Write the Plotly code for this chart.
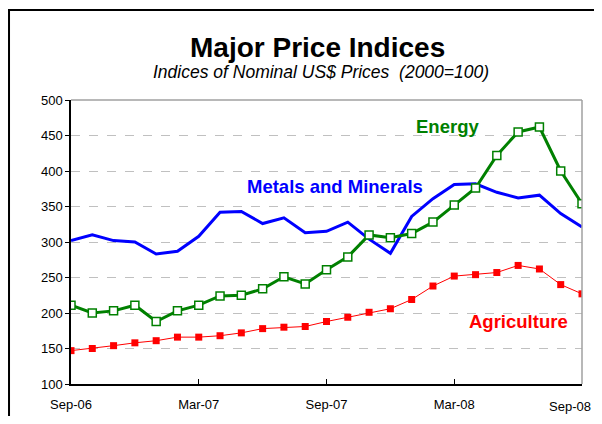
import plotly.graph_objects as go

months = ["Sep-06", "Oct-06", "Nov-06", "Dec-06", "Jan-07", "Feb-07", "Mar-07", "Apr-07",
          "May-07", "Jun-07", "Jul-07", "Aug-07", "Sep-07", "Oct-07", "Nov-07", "Dec-07",
          "Jan-08", "Feb-08", "Mar-08", "Apr-08", "May-08", "Jun-08", "Jul-08", "Aug-08", "Sep-08"]
metals = [302, 310, 302, 300, 283, 287, 308, 342, 343, 326, 334, 313, 315, 328, 304, 284,
          336, 361, 381, 382, 370, 362, 366, 340, 321]
energy = [211, 200, 203, 211, 188, 203, 211, 224, 225, 234, 251, 241, 261, 279, 310, 306,
          312, 328, 352, 376, 422, 455, 462, 400, 354]
agriculture = [147, 150, 154, 158, 161, 166, 166, 168, 172, 178, 180, 181, 188, 194, 201, 206,
               219, 238, 252, 254, 257, 267, 262, 240, 227]
tick_labels = ["Sep-06", "Mar-07", "Sep-07", "Mar-08", "Sep-08"]
y_ticks = [100, 150, 200, 250, 300, 350, 400, 450, 500]

fig = go.Figure()
fig.add_trace(go.Scatter(x=months, y=metals, mode="lines", name="Metals and Minerals",
                         line=dict(color="#0000ff", width=3)))
fig.add_trace(go.Scatter(x=months, y=energy, mode="lines+markers", name="Energy",
                         line=dict(color="#008000", width=3),
                         marker=dict(symbol="square", size=8, color="white",
                                     line=dict(color="#008000", width=1.5))))
fig.add_trace(go.Scatter(x=months, y=agriculture, mode="lines+markers", name="Agriculture",
                         line=dict(color="#ff0000", width=1),
                         marker=dict(symbol="square", size=7, color="#ff0000")))

font = "Liberation Sans, Arial, sans-serif"


def label(text, x, y, size, color="black", xanchor="center", xshift=0):
    return dict(text=text, x=x, y=y, xref="paper", yref="paper", showarrow=False,
                xanchor=xanchor, yanchor="middle", xshift=xshift,
                font=dict(size=size, color=color, family=font))


# last tick label is drawn as an annotation so it stays inside the page
shown_ticktext = tick_labels[:-1] + [""]

fig.update_layout(
    width=586, height=408,
    margin=dict(l=63, r=12, t=92, b=32),
    paper_bgcolor="white", plot_bgcolor="white",
    showlegend=False,
    font=dict(family=font, size=13, color="black"),
    xaxis=dict(type="category", range=[0, 24], tickmode="array", tickvals=tick_labels,
               ticktext=shown_ticktext, showgrid=False, showline=True, linecolor="black",
               linewidth=1.5, ticks="inside", ticklen=5, tickcolor="black",
               tickfont=dict(size=13), automargin=False, ticklabelstandoff=8),
    yaxis=dict(range=[100, 500], tickvals=y_ticks, showgrid=True, gridcolor="#c0c0c0",
               griddash="dash", gridwidth=1, showline=True, linecolor="black",
               linewidth=1.5, ticks="outside", ticklen=4, tickcolor="black",
               zeroline=False, tickfont=dict(size=13), automargin=False),
    annotations=[
        label("<b>Major Price Indices</b>", 0.482, 1.186, 28),
        label("<i>Indices of Nominal US$ Prices  (2000=100)</i>", 0.490, 1.100, 17.5),
        label("<b>Energy</b>", 0.737, 0.905, 18.5, "#008000"),
        label("<b>Metals and Minerals</b>", 0.517, 0.697, 18.5, "#0000ff"),
        label("<b>Agriculture</b>", 0.875, 0.220, 18.5, "#ff0000"),
        label(tick_labels[-1], 1, -0.079, 13, xanchor="right", xshift=11),
    ],
    shapes=[
        dict(type="line", xref="paper", yref="paper", x0=0, x1=1, y0=1, y1=1,
             line=dict(color="#a0a0a0", width=1.5)),
        dict(type="line", xref="paper", yref="paper", x0=1, x1=1, y0=0, y1=1,
             line=dict(color="#a0a0a0", width=1.5)),
        dict(type="rect", xref="paper", yref="paper", x0=-0.1213, x1=1.06, y0=-0.2, y1=1.317,
             line=dict(color="black", width=2)),
    ],
)
fig.write_html("out.html")
